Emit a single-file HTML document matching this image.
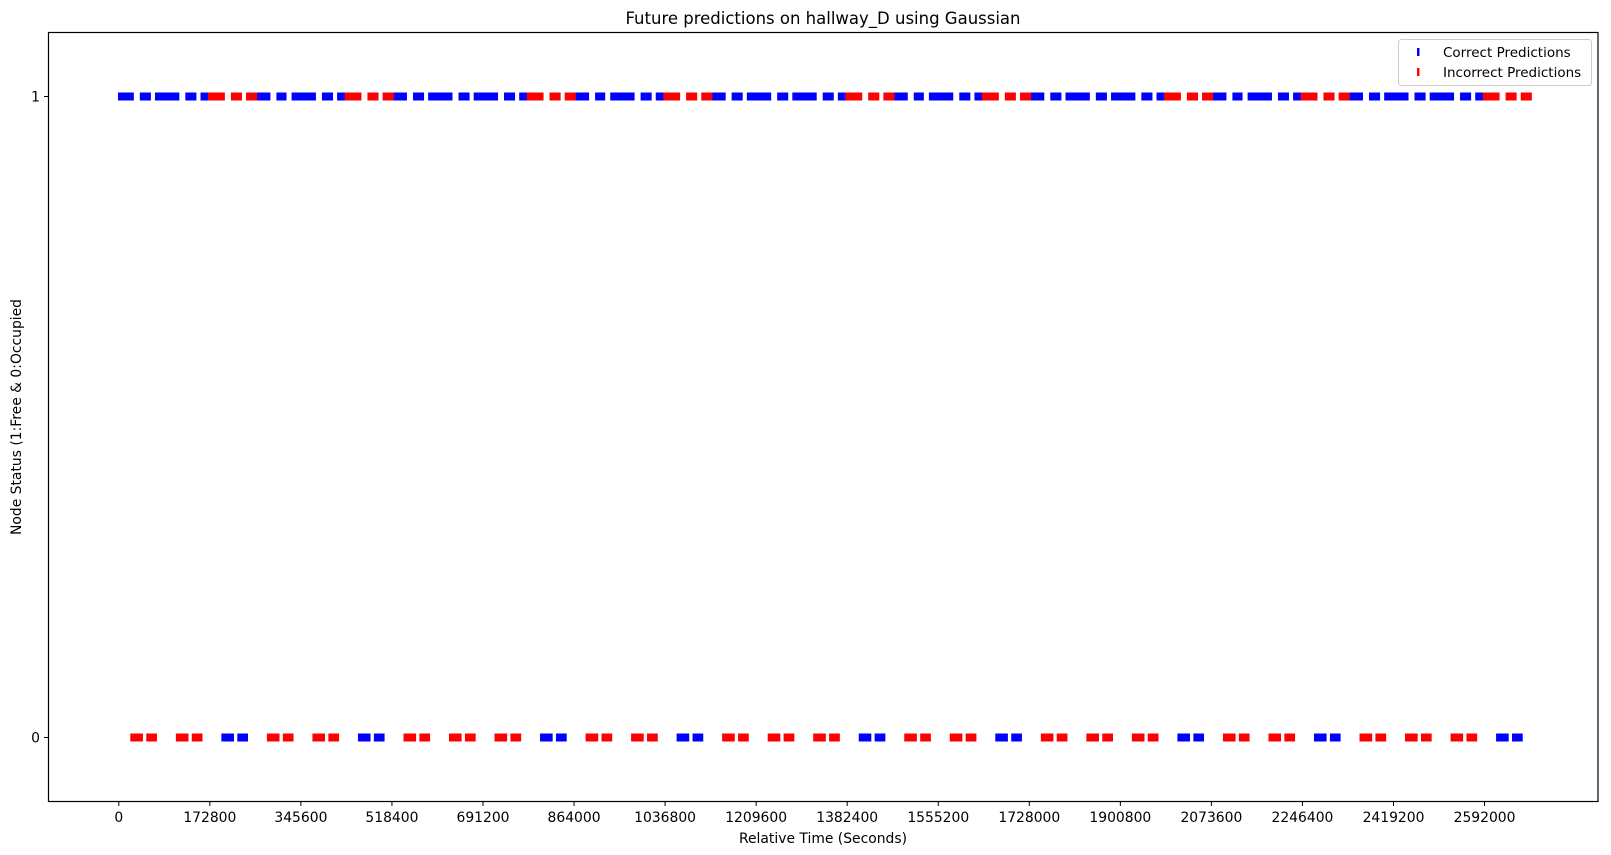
<!DOCTYPE html>
<html><head><meta charset="utf-8"><style>
html,body{margin:0;padding:0;background:#fff;}
svg{display:block;font-family:"DejaVu Sans","Liberation Sans",sans-serif;}
</style></head><body>
<svg id="chart" width="1611" height="855" viewBox="0 0 1611 855">
<rect x="0" y="0" width="1611" height="855" fill="#fff"/>
<text x="823" y="24" font-size="16.5" text-anchor="middle" fill="#000">Future predictions on hallway_D using Gaussian</text>
<g id="marks"></g>
<g id="axes"></g>
<rect x="48.5" y="32.5" width="1549.5" height="769" fill="none" stroke="#000" stroke-width="1.2"/>
<text x="823" y="843" font-size="13.9" text-anchor="middle">Relative Time (Seconds)</text>
<text transform="translate(21,417) rotate(-90)" font-size="13.9" text-anchor="middle">Node Status (1:Free &amp; 0:Occupied</text>
<g>
<rect x="1398.5" y="39.5" width="193" height="46" rx="3" fill="#fff" stroke="#ccc"/>
<rect x="1417" y="48" width="2.5" height="8" fill="#0000ff"/>
<text x="1443" y="57" font-size="13.5">Correct Predictions</text>
<rect x="1417" y="68" width="2.5" height="8" fill="#ff0000"/>
<text x="1443" y="77" font-size="13.5">Incorrect Predictions</text>
</g>
</svg>
<script>
// Data in hours (converted to seconds for the axis)
const correctFree = [[0,7.5],[11.5,16.5],[19.5,31.5],[35.5,40.5],[43.5,47.5],
[72.5,79.5],[83.5,88],[91.5,103.5],[107.5,112.5],[115.5,119.5],
[144.5,151.5],[155.5,160.5],[163.5,175.5],[179.5,184.5],[187.5,199.5],[203.5,208.5],[211.5,215.5],
[240.5,247.5],[251.5,256],[259.5,271.5],[275.5,280.5],[283.5,287.5],
[312.5,319.5],[323.5,328.5],[331.5,343.5],[347.5,352.5],[355.5,367.5],[371.5,376.5],[379.5,383.5],
[408.5,415.5],[419.5,424],[427.5,439.5],[443.5,448.5],[451.5,455.5],
[480.5,487.5],[491.5,496.5],[499.5,511.5],[515.5,520.5],[523.5,535.5],[539.5,544.5],[547.5,551.5],
[576.5,583.5],[587.5,592],[595.5,607.5],[611.5,616.5],[619.5,623.5],
[648.5,655.5],[659.5,664.5],[667.5,679.5],[683.5,688.5],[691.5,703.5],[707.5,712.5],[715.5,719.5]];
const incorrectFree = [[47.5,55.5],[59.5,64.5],[67.5,72.5],
[119.5,127.5],[131.5,136.5],[139.5,144.5],
[215.5,223.5],[227.5,232.5],[235.5,240.5],
[287.5,295.5],[299.5,304.5],[307.5,312.5],
[383.5,391.5],[395.5,400.5],[403.5,408.5],
[455.5,463.5],[467.5,472.5],[475.5,480.5],
[551.5,559.5],[563.5,568.5],[571.5,576.5],
[623.5,631.5],[635.5,640.5],[643.5,648.5],
[719.5,727.5],[731.5,736.5],[739.5,744.5]];
const correctOccupied = [[54.5,60.3],[62.9,67.7],[126.5,132.3],[134.9,139.7],[222.5,228.3],[230.9,235.7],
[294.5,300.3],[302.9,307.7],[390.5,396.3],[398.9,403.7],[462.5,468.3],[470.9,475.7],
[558.5,564.3],[566.9,571.7],[630.5,636.3],[638.9,643.7],[726.5,732.3],[734.9,739.7]];
const incorrectOccupied = [[6.5,12.3],[14.9,19.7],[30.5,36.3],[38.9,43.7],[78.5,84.3],[86.9,91.7],
[102.5,108.3],[110.9,115.7],[150.5,156.3],[158.9,163.7],[174.5,180.3],[182.9,187.7],
[198.5,204.3],[206.9,211.7],[246.5,252.3],[254.9,259.7],[270.5,276.3],[278.9,283.7],
[318.5,324.3],[326.9,331.7],[342.5,348.3],[350.9,355.7],[366.5,372.3],[374.9,379.7],
[414.5,420.3],[422.9,427.7],[438.5,444.3],[446.9,451.7],[486.5,492.3],[494.9,499.7],
[510.5,516.3],[518.9,523.7],[534.5,540.3],[542.9,547.7],[582.5,588.3],[590.9,595.7],
[606.5,612.3],[614.9,619.7],[654.5,660.3],[662.9,667.7],[678.5,684.3],[686.9,691.7],
[702.5,708.3],[710.9,715.7]];
const xTicks = [0,172800,345600,518400,691200,864000,1036800,1209600,1382400,1555200,1728000,1900800,2073600,2246400,2419200,2592000];
const yTicks = [0,1];

const NS = "http://www.w3.org/2000/svg";
function xScale(sec){ return 118.8 + sec/172800*91.05; }
function yScale(v){ return 737.5 - v*641; }

const marks = document.getElementById('marks');
function drawSegs(segs, val, color, name){
  segs.forEach(function(s){
    const r = document.createElementNS(NS,'rect');
    const x0 = xScale(s[0]*3600), x1 = xScale(s[1]*3600);
    r.setAttribute('x', x0 - 0.8);
    r.setAttribute('y', yScale(val) - 4);
    r.setAttribute('width', Math.max(1.6, x1 - x0 + 1.6));
    r.setAttribute('height', 8);
    r.setAttribute('fill', color);
    
    
    marks.appendChild(r);
  });
}
drawSegs(correctFree, 1, '#0000ff', 'correct-free-marker');
drawSegs(incorrectFree, 1, '#ff0000', 'incorrect-free-marker');
drawSegs(correctOccupied, 0, '#0000ff', 'correct-occupied-marker');
drawSegs(incorrectOccupied, 0, '#ff0000', 'incorrect-occupied-marker');

const axes = document.getElementById('axes');
xTicks.forEach(function(t){
  const x = xScale(t);
  const l = document.createElementNS(NS,'line');
  l.setAttribute('x1', x); l.setAttribute('x2', x);
  l.setAttribute('y1', 801.5); l.setAttribute('y2', 806);
  l.setAttribute('stroke', '#000');
  
  
  axes.appendChild(l);
  const tx = document.createElementNS(NS,'text');
  tx.setAttribute('x', x); tx.setAttribute('y', 822);
  tx.setAttribute('font-size', '13.9');
  tx.setAttribute('text-anchor', 'middle');
  tx.textContent = String(t);
  
  
  axes.appendChild(tx);
});
yTicks.forEach(function(t){
  const y = yScale(t);
  const l = document.createElementNS(NS,'line');
  l.setAttribute('x1', 44); l.setAttribute('x2', 48.5);
  l.setAttribute('y1', y); l.setAttribute('y2', y);
  l.setAttribute('stroke', '#000');
  
  
  axes.appendChild(l);
  const tx = document.createElementNS(NS,'text');
  tx.setAttribute('x', 40); tx.setAttribute('y', y + 5);
  tx.setAttribute('font-size', '13.9');
  tx.setAttribute('text-anchor', 'end');
  tx.textContent = String(t);
  
  
  axes.appendChild(tx);
});
</script>
</body></html>
